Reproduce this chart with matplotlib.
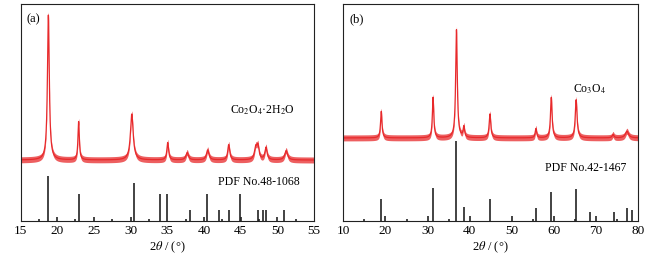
import numpy as np
import matplotlib
matplotlib.use("Agg")
import matplotlib.pyplot as plt

plt.rcParams['font.family'] = ['Liberation Serif', 'DejaVu Serif']
plt.rcParams['mathtext.fontset'] = 'stix'

# ---------------- data (arbitrary intensity units) ----------------
# Panel (a): Co2O4·2H2O
xrange_a = (15, 55)
baseline_a = 182
peak_pos_a = [18.77, 22.9, 30.15, 35.05, 37.7, 40.5, 43.37, 47.05, 47.35, 48.45, 51.2]
peak_amp_a = [435, 115, 138, 52, 22, 30, 46, 35, 38, 37, 28]
peak_fwhm_a = [0.30, 0.22, 0.45, 0.28, 0.40, 0.40, 0.32, 0.40, 0.35, 0.35, 0.45]
stick_pos_a = [17.5, 18.77, 20.0, 22.45, 22.9, 25.0, 27.45, 30.0, 30.4, 32.5, 33.95, 34.95,
               37.5, 38.1, 40.0, 40.45, 42.0, 42.5, 43.4, 44.86, 45.05, 47.3, 47.45, 48.0,
               48.5, 50.0, 50.95, 52.5]
stick_h_a = [5, 135, 11, 6, 80, 10, 5, 11, 113, 5, 80, 80,
             5, 32, 11, 80, 32, 5, 32, 80, 10, 32, 6, 32,
             32, 11, 32, 5]
ticks_a = [15, 20, 25, 30, 35, 40, 45, 50, 55]

# Panel (b): Co3O4
xrange_b = (10, 80)
baseline_b = 250
peak_pos_b = [19.0, 31.3, 36.85, 38.6, 44.8, 55.7, 59.35, 65.25, 74.0, 77.3]
peak_amp_b = [80, 122, 325, 32, 72, 28, 122, 115, 10, 20]
peak_fwhm_b = [0.40, 0.40, 0.45, 0.40, 0.45, 0.40, 0.45, 0.50, 0.50, 0.90]
stick_pos_b = [14.9, 18.94, 19.97, 25.0, 30.0, 31.2, 35.0, 36.82, 38.56, 39.98, 44.8, 49.95,
               54.96, 55.65, 59.3, 60.0, 65.05, 65.3, 68.6, 70.0, 74.2, 75.0, 77.25, 78.4]
stick_h_b = [7, 65, 14, 7, 14, 98, 7, 240, 42, 14, 65, 14,
             7, 40, 87, 14, 7, 97, 28, 14, 28, 7, 38, 32]
ticks_b = [10, 20, 30, 40, 50, 60, 70, 80]

noise_half = 9  # half-width of noise band (same units)

RED = '#e8292b'


def profile(x, base, pos, amp, fwhm):
    y = np.full_like(x, float(base))
    for p, a, w in zip(pos, amp, fwhm):
        g = w / 2.0
        y += a * (g ** 2) / ((x - p) ** 2 + g ** 2)
    return y


def panel(ax, xr, base, ppos, pamp, pfwhm, spos, sh, ticks, ytop, tag, name, pdf,
          name_xy, pdf_xy):
    x = np.linspace(xr[0], xr[1], 4000)
    y = profile(x, base, ppos, pamp, pfwhm)
    ax.fill_between(x, y - noise_half, y + noise_half, color=RED, alpha=0.75, lw=0)
    ax.plot(x, y, color=RED, lw=0.9)
    ax.vlines(spos, 0, sh, color='#222222', lw=1.2)
    ax.set_xlim(*xr)
    ax.set_ylim(0, ytop)
    ax.set_xticks(ticks)
    ax.set_yticks([])
    ax.tick_params(axis='x', length=0, pad=3, labelsize=9.5)
    for s in ax.spines.values():
        s.set_linewidth(0.8)
        s.set_color('#222222')
    ax.set_xlabel(r'2$\theta$ / (°)', fontsize=9, labelpad=2)
    ax.text(0.02, 0.93, tag, transform=ax.transAxes, fontsize=9, va='center', ha='left')
    ax.text(name_xy[0], name_xy[1], name, transform=ax.transAxes, fontsize=8.5,
            va='center', ha='left')
    ax.text(pdf_xy[0], pdf_xy[1], pdf, transform=ax.transAxes, fontsize=8.5,
            va='center', ha='left')


fig = plt.figure(figsize=(6.62, 2.57), dpi=100)
ax1 = fig.add_axes([0.0313, 0.1412, 0.443, 0.843])
ax2 = fig.add_axes([0.5186, 0.1400, 0.4456, 0.8444])

panel(ax1, xrange_a, baseline_a, peak_pos_a, peak_amp_a, peak_fwhm_a, stick_pos_a, stick_h_a,
      ticks_a, 650, '(a)', r'Co$_2$O$_4$·2H$_2$O', 'PDF No.48-1068',
      (0.715, 0.51), (0.671, 0.178))
panel(ax2, xrange_b, baseline_b, peak_pos_b, peak_amp_b, peak_fwhm_b, stick_pos_b, stick_h_b,
      ticks_b, 653, '(b)', r'Co$_3$O$_4$', 'PDF No.42-1467',
      (0.78, 0.605), (0.685, 0.245))

fig.savefig('out.png', dpi=100, facecolor='white')
